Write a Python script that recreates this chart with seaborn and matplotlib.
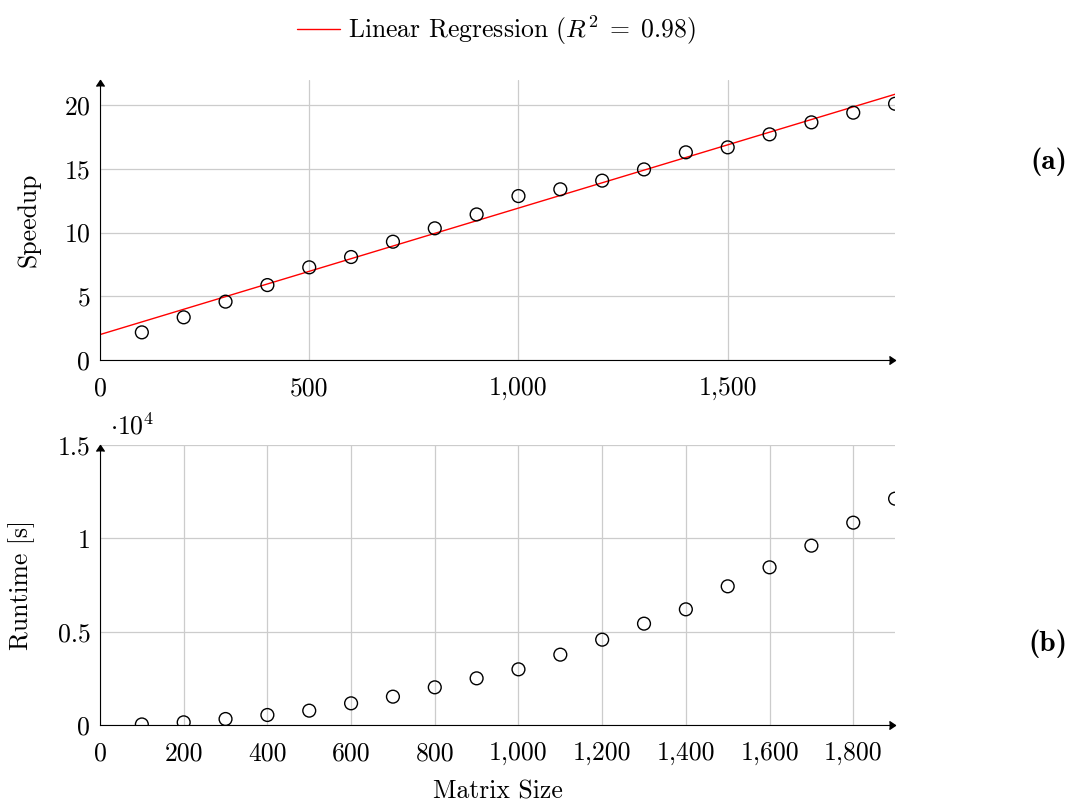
import numpy as np
import pandas as pd
import seaborn as sns
import matplotlib.pyplot as plt
from matplotlib.ticker import FuncFormatter, MultipleLocator

# data
matrix_size = [100, 200, 300, 400, 500, 600, 700, 800, 900, 1000,
               1100, 1200, 1300, 1400, 1500, 1600, 1700, 1800, 1900]
speedup = [2.17, 3.35, 4.58, 5.88, 7.27, 8.08, 9.28, 10.33, 11.42, 12.86,
           13.39, 14.07, 14.95, 16.29, 16.68, 17.7, 18.64, 19.4, 20.1]
runtime = [30, 143, 321, 536, 768, 1161, 1518, 2018, 2500, 2982,
           3768, 4571, 5429, 6196, 7429, 8446, 9607, 10839, 12125]
r2_label = r'Linear Regression ($R^2\;=\;0.98$)'

df = pd.DataFrame({'size': matrix_size, 'speedup': speedup, 'runtime': runtime})

sns.set_style('white')
plt.rcParams['font.family'] = 'serif'
plt.rcParams['font.serif'] = ['cmr10', 'DejaVu Serif']
plt.rcParams['mathtext.fontset'] = 'cm'
plt.rcParams['axes.formatter.use_mathtext'] = True
plt.rcParams['font.size'] = 18.5
for k in ['text.color', 'axes.labelcolor', 'xtick.color', 'ytick.color']:
    plt.rcParams[k] = 'black'

fig = plt.figure(figsize=(10.73, 8.06), dpi=100)
ax1 = fig.add_axes([0.0932, 0.5533, 0.741, 0.3474])
ax2 = fig.add_axes([0.0932, 0.1005, 0.741, 0.3474])

comma = FuncFormatter(lambda v, p: f'{v:,.0f}')


def style_axis(ax):
    for s in ['top', 'right']:
        ax.spines[s].set_visible(False)
    ax.spines['left'].set_color('black')
    ax.spines['bottom'].set_color('black')
    ax.grid(True, color='#cccccc', lw=0.9)
    ax.set_axisbelow(True)
    ax.tick_params(direction='inout', length=6, width=0.6, color='#777777', labelcolor='black', pad=4)
    ax.tick_params(axis='x', pad=9)
    ax.plot(1, 0, marker=5, color='k', ms=6, transform=ax.get_yaxis_transform(), clip_on=False)
    ax.plot(0, 1, marker=6, color='k', ms=6, transform=ax.get_xaxis_transform(), clip_on=False)


# (a) speedup with regression
ax1.set_xlim(0, 1900)
sns.regplot(data=df, x='size', y='speedup', ax=ax1, ci=None, truncate=False,
            scatter=False, line_kws={'color': 'red', 'lw': 1})
sns.scatterplot(data=df, x='size', y='speedup', ax=ax1, s=85, marker='o',
                facecolors='none', edgecolor='black', linewidth=1, zorder=3)
ax1.set_xlim(0, 1900)
ax1.set_ylim(0, 21.96)
ax1.xaxis.set_major_locator(MultipleLocator(500))
ax1.yaxis.set_major_locator(MultipleLocator(5))
ax1.xaxis.set_major_formatter(comma)
ax1.set_xlabel('')
ax1.set_ylabel('Speedup')
style_axis(ax1)
if ax1.get_legend() is not None:
    ax1.get_legend().remove()

# (b) runtime
sns.scatterplot(data=df, x='size', y='runtime', ax=ax2, s=85, marker='o',
                facecolors='none', edgecolor='black', linewidth=1, zorder=3)
ax2.set_xlim(0, 1900)
ax2.set_ylim(0, 15000)
ax2.xaxis.set_major_locator(MultipleLocator(200))
ax2.yaxis.set_major_locator(MultipleLocator(5000))
ax2.xaxis.set_major_formatter(comma)
ax2.yaxis.set_major_formatter(FuncFormatter(lambda v, p: f'{v / 1e4:g}'))
ax2.set_xlabel('Matrix Size', labelpad=10)
ax2.set_ylabel('Runtime [s]')
ax2.text(0.012, 1.02, r'$\cdot 10^4$', transform=ax2.transAxes, ha='left', va='bottom')
style_axis(ax2)

ax1.yaxis.set_label_coords(-0.075, 0.5)
ax2.yaxis.set_label_coords(-0.082, 0.5)

fig.text(0.9944, 0.799, '(a)', ha='right', va='center', family='cmb10', fontsize=21)
fig.text(0.9944, 0.201, '(b)', ha='right', va='center', family='cmb10', fontsize=21)

lines = [l for l in ax1.get_lines() if l.get_color() == 'red']
fig.legend(lines, [r2_label], loc='upper center', bbox_to_anchor=(0.4625, 1.012), frameon=False,
           handlelength=1.7, handletextpad=0.3)

fig.savefig('out.png', dpi=100)
